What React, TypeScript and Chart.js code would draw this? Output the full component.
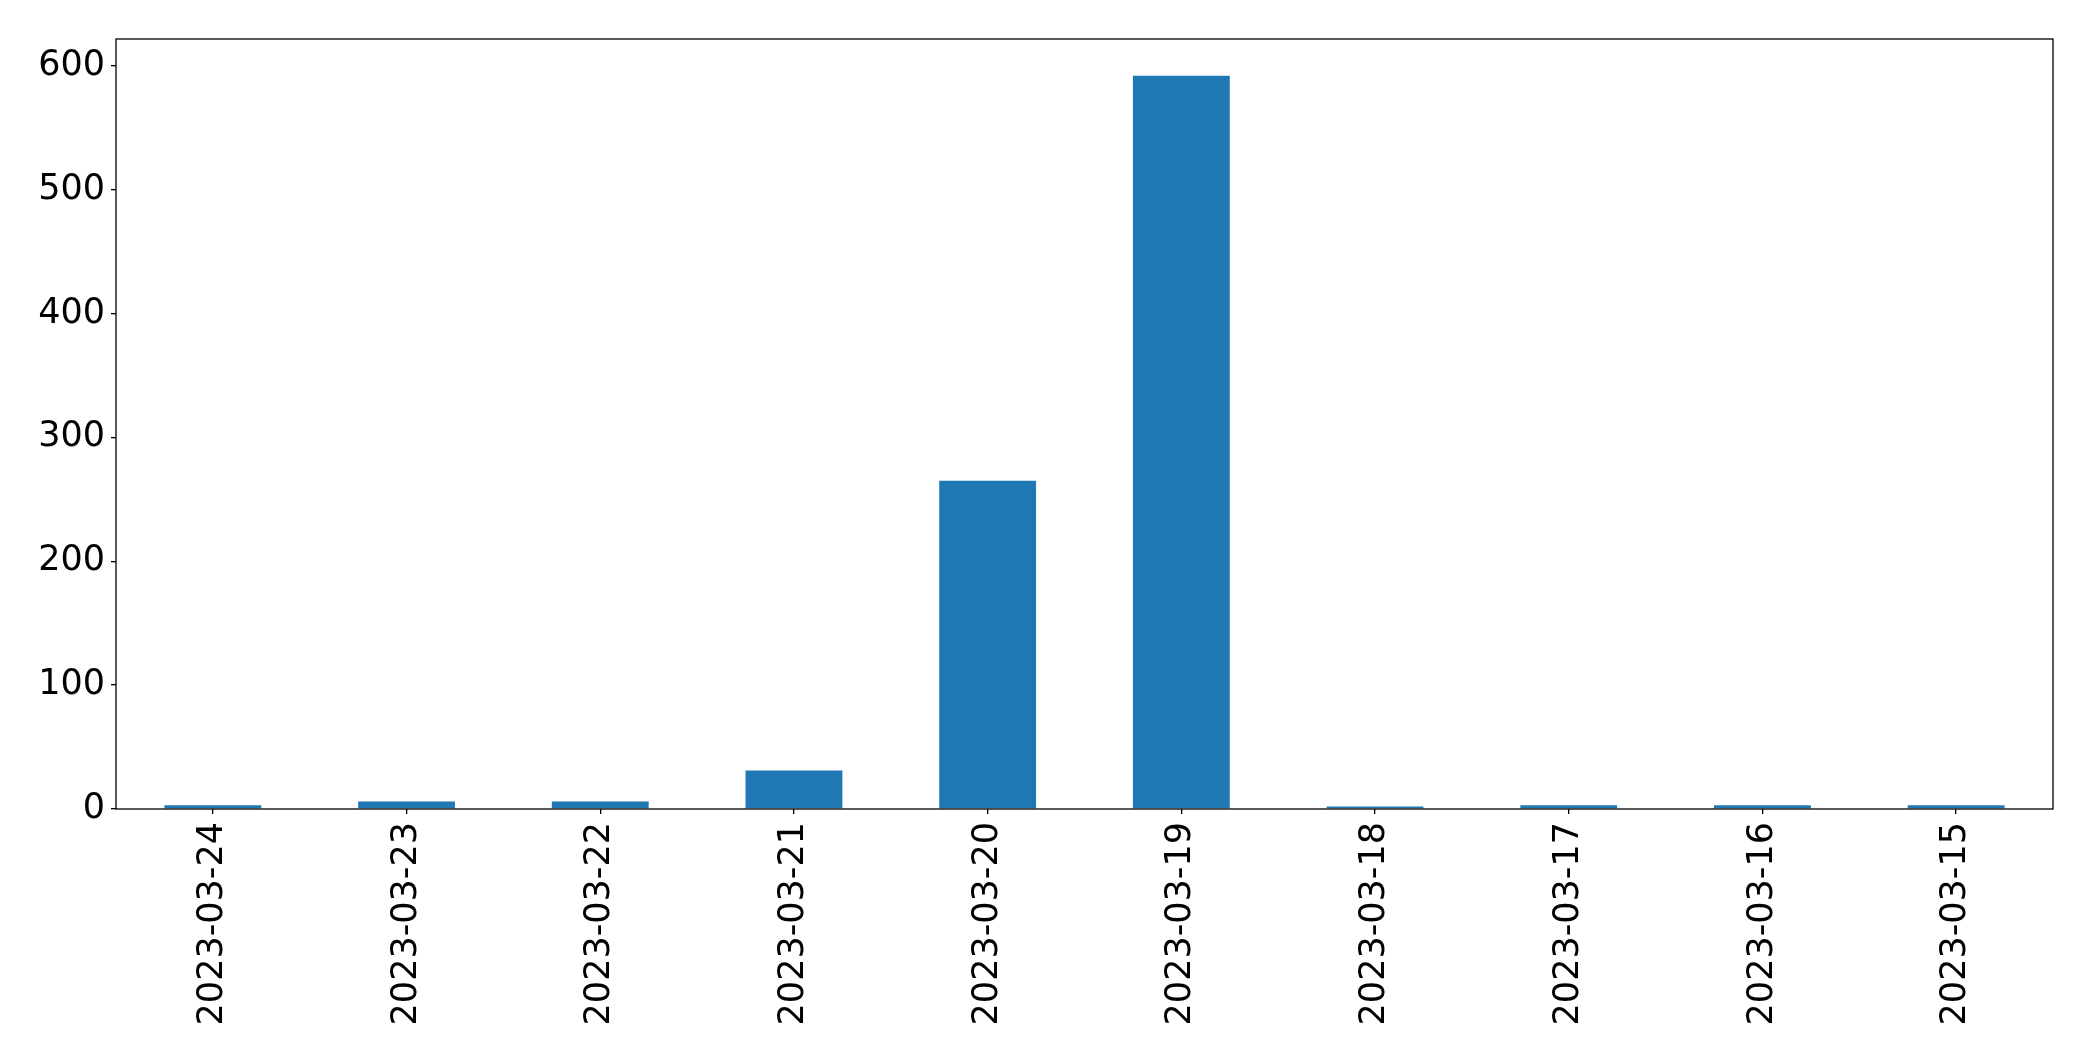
import React, { useEffect, useRef } from "react";
import { Chart, registerables } from "chart.js";

Chart.register(...registerables);

const categories: string[] = [
  "2023-03-24",
  "2023-03-23",
  "2023-03-22",
  "2023-03-21",
  "2023-03-20",
  "2023-03-19",
  "2023-03-18",
  "2023-03-17",
  "2023-03-16",
  "2023-03-15",
];
const values: number[] = [3, 6, 6, 31, 265, 592, 2, 3, 3, 3];
const yTickValues: number[] = [0, 100, 200, 300, 400, 500, 600];
const yMax = 621.6;

const W = 2093;
const H = 1061;

const framePlugin = {
  id: "frame",
  afterDatasetsDraw(chart: any) {
    const { ctx, chartArea } = chart;
    ctx.save();
    ctx.strokeStyle = "#000";
    ctx.lineWidth = 1.3;
    ctx.strokeRect(chartArea.left, chartArea.top, chartArea.right - chartArea.left, chartArea.bottom - chartArea.top);
    ctx.restore();
  },
};

export default function App() {
  const ref = useRef<HTMLCanvasElement | null>(null);
  useEffect(() => {
    document.body.style.margin = "0";
    const canvas = ref.current!;
    const font = { family: "'DejaVu Sans'", size: 35 };
    const chart = new Chart(canvas, {
      type: "bar",
      data: {
        labels: categories,
        datasets: [
          {
            data: values,
            backgroundColor: "#1f77b4",
            barPercentage: 0.5,
            categoryPercentage: 1.0,
          },
        ],
      },
      options: {
        responsive: false,
        animation: false,
        devicePixelRatio: 1,
        layout: { padding: { left: 0, top: 39, right: 40, bottom: 0 } },
        plugins: { legend: { display: false }, tooltip: { enabled: false } },
        scales: {
          x: {
            type: "category",
            offset: true,
            grid: { display: true, offset: false, drawOnChartArea: false, drawTicks: true, tickLength: 5, color: "#000", lineWidth: 1.3 },
            border: { display: false },
            ticks: { color: "#000", font, minRotation: 90, maxRotation: 90, padding: 8, autoSkip: false },
            afterFit: (s: any) => {
              s.height = H - 809;
            },
          },
          y: {
            min: 0,
            max: yMax,
            grid: { display: true, drawOnChartArea: false, drawTicks: true, tickLength: 5, color: "#000", lineWidth: 1.3 },
            border: { display: false },
            ticks: { color: "#000", font, padding: 6 },
            afterBuildTicks: (s: any) => {
              s.ticks = yTickValues.map((v) => ({ value: v }));
            },
            afterFit: (s: any) => {
              s.width = 116;
            },
          },
        },
      },
      plugins: [framePlugin],
    } as any);
    return () => chart.destroy();
  }, []);
  return (
    <div style={{ position: "absolute", left: 0, top: 0, width: W, height: H, background: "#fff" }}>
      <canvas ref={ref} width={W} height={H} style={{ width: W, height: H, display: "block" }} />
    </div>
  );
}
